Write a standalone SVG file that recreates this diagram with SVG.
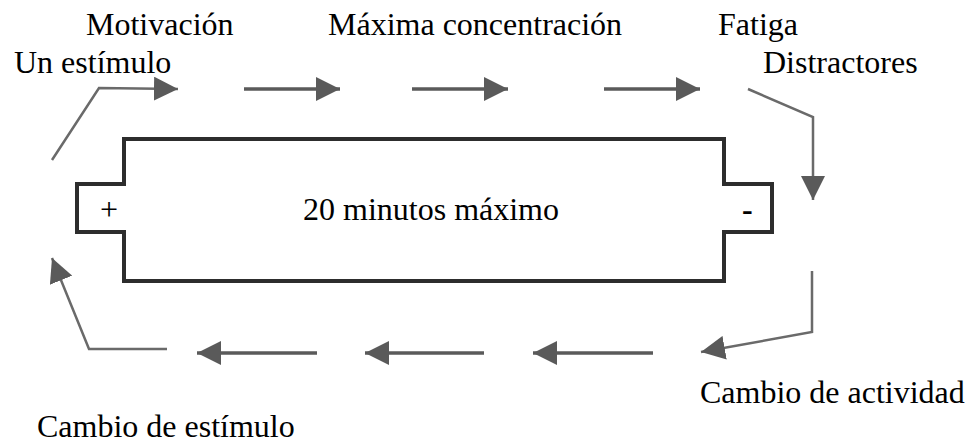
<svg xmlns="http://www.w3.org/2000/svg" width="969" height="445" viewBox="0 0 969 445">
<style>
.lbl{font-family:"Liberation Serif","Times New Roman",serif;font-size:32px;fill:#000}
.arr{fill:none;stroke:#5a5a5a;stroke-width:3.5;marker-end:url(#ah)}
.bend{fill:none;stroke:#6a6a6a;stroke-width:2.5;marker-end:url(#ah)}
.body{fill:#fff;stroke:#2d2d2d;stroke-width:4;stroke-linejoin:miter}
</style>
<defs>
<marker id="ah" markerUnits="userSpaceOnUse" markerWidth="24" markerHeight="24" refX="24" refY="12" orient="auto"><path d="M0,0 L24,12 L0,24 Z" fill="#5a5a5a"/></marker>
</defs>
<rect width="969" height="445" fill="#fff"/>
<g id="battery">
<path class="body" d="M124,139 H724 V184 H772 V232 H724 V281 H124 V232 H77 V184 H124 Z"/>
<text class="lbl" x="100" y="220">+</text>
<text class="lbl" x="303" y="220">20 minutos máximo</text>
<text class="lbl" x="742" y="220" font-weight="bold">-</text>
</g>
<g id="labels">
<text class="lbl" x="86" y="35">Motivación</text>
<text class="lbl" x="14" y="73">Un estímulo</text>
<text class="lbl" x="328" y="35">Máxima concentración</text>
<text class="lbl" x="718" y="35">Fatiga</text>
<text class="lbl" x="763" y="73">Distractores</text>
<text class="lbl" x="700" y="403">Cambio de actividad</text>
<text class="lbl" x="37" y="437">Cambio de estímulo</text>
</g>
<g id="connectors">
<polyline class="bend" points="52,160 99,88 178,89"/>
<line class="arr" x1="244" y1="89" x2="340" y2="89"/>
<line class="arr" x1="412" y1="89" x2="508" y2="89"/>
<line class="arr" x1="604" y1="89" x2="700" y2="89"/>
<polyline class="bend" points="748,89 813,117 813,200"/>
<polyline class="bend" points="812,271 812,332 701,352"/>
<line class="arr" x1="653" y1="353" x2="533" y2="353"/>
<line class="arr" x1="484" y1="353" x2="365" y2="353"/>
<line class="arr" x1="317" y1="353" x2="197" y2="353"/>
<polyline class="bend" points="167,349 89,349 52,258"/>
</g>
</svg>
